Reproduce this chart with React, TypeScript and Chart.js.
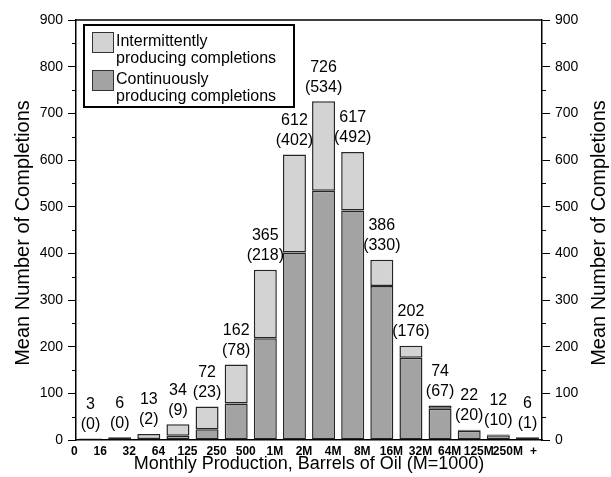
import React, { useEffect, useRef } from "react";
import { Chart, registerables } from "chart.js";

Chart.register(...registerables);

// Production bins are bounded by these edges (monthly barrels of oil, M = 1000)
const binEdges = ["0", "16", "32", "64", "125", "250", "500", "1M", "2M", "4M", "8M", "16M", "32M", "64M", "125M", "250M", "+"];
const binNames = binEdges.slice(0, -1).map((edge, i) => `${edge}–${binEdges[i + 1]}`);

// Mean number of completions per bin
const totalCompletions = [3, 6, 13, 34, 72, 162, 365, 612, 726, 617, 386, 202, 74, 22, 12, 6];
const continuousCompletions = [0, 0, 2, 9, 23, 78, 218, 402, 534, 492, 330, 176, 67, 20, 10, 1];
const intermittentCompletions = totalCompletions.map((t, i) => t - continuousCompletions[i]);

const yTicks = [0, 100, 200, 300, 400, 500, 600, 700, 800, 900];
const yMinorTicks = [50, 150, 250, 350, 450, 550, 650, 750, 850];

const FONT = "'Liberation Sans', Arial, Helvetica, sans-serif";
const INTERMITTENT_FILL = "#d3d3d3";
const CONTINUOUS_FILL = "#a3a3a3";
const BAR_EDGE = "#262626";

const framePlugin = {
  id: "frameAndMinorTicks",
  afterDraw(chart: any) {
    const { ctx, chartArea } = chart;
    ctx.save();
    ctx.strokeStyle = "#000";
    ctx.lineWidth = 1.5;
    ctx.beginPath();
    ctx.moveTo(chartArea.left, chartArea.top);
    ctx.lineTo(chartArea.right, chartArea.top);
    ctx.stroke();
    ctx.lineWidth = 1;
    const left = chart.scales.y;
    const right = chart.scales.y2;
    for (const v of yMinorTicks) {
      const yl = Math.round(left.getPixelForValue(v)) + 0.5;
      ctx.beginPath();
      ctx.moveTo(chartArea.left - 4, yl);
      ctx.lineTo(chartArea.left, yl);
      ctx.stroke();
      const yr = Math.round(right.getPixelForValue(v)) + 0.5;
      ctx.beginPath();
      ctx.moveTo(chartArea.right, yr);
      ctx.lineTo(chartArea.right + 4, yr);
      ctx.stroke();
    }
    ctx.restore();
  },
};

const barLabelPlugin = {
  id: "barLabels",
  afterDatasetsDraw(chart: any) {
    const { ctx } = chart;
    const topMeta = chart.getDatasetMeta(1);
    ctx.save();
    ctx.fillStyle = "#000";
    ctx.font = `16px ${FONT}`;
    ctx.textAlign = "center";
    ctx.textBaseline = "middle";
    topMeta.data.forEach((bar: any, i: number) => {
      const x = bar.x;
      const top = bar.y;
      ctx.fillText(String(totalCompletions[i]), x, top - 34);
      ctx.fillText(`(${continuousCompletions[i]})`, x, top - 14);
    });
    ctx.restore();
  },
};

const legendPlugin = {
  id: "boxedLegend",
  afterDraw(chart: any) {
    const { ctx, chartArea } = chart;
    const x0 = chartArea.left + 8;
    const y0 = chartArea.top + 5;
    const w = 210;
    const h = 82;
    ctx.save();
    ctx.fillStyle = "#fff";
    ctx.fillRect(x0, y0, w, h);
    ctx.strokeStyle = "#000";
    ctx.lineWidth = 2;
    ctx.strokeRect(x0, y0, w, h);
    const items = [
      { fill: INTERMITTENT_FILL, lines: ["Intermittently", "producing completions"] },
      { fill: CONTINUOUS_FILL, lines: ["Continuously", "producing completions"] },
    ];
    ctx.font = `16px ${FONT}`;
    ctx.textAlign = "left";
    ctx.textBaseline = "middle";
    items.forEach((item, k) => {
      const sy = y0 + 7 + k * 38;
      ctx.fillStyle = item.fill;
      ctx.fillRect(x0 + 8, sy, 22, 21);
      ctx.strokeStyle = "#333";
      ctx.lineWidth = 1;
      ctx.strokeRect(x0 + 8.5, sy + 0.5, 21, 20);
      ctx.fillStyle = "#000";
      ctx.fillText(item.lines[0], x0 + 32, sy + 10);
      ctx.fillText(item.lines[1], x0 + 32, sy + 27);
    });
    ctx.restore();
  },
};

const axisTitlePlugin = {
  id: "axisTitles",
  afterDraw(chart: any) {
    const { ctx, chartArea, width } = chart;
    const midY = (chartArea.top + chartArea.bottom) / 2 + 3;
    const midX = (chartArea.left + chartArea.right) / 2;
    ctx.save();
    ctx.fillStyle = "#000";
    ctx.textAlign = "center";
    ctx.textBaseline = "middle";
    ctx.font = `20px ${FONT}`;
    const yTitle = "Mean Number of Completions";
    for (const cx of [23, width - 12]) {
      ctx.save();
      ctx.translate(cx, midY);
      ctx.rotate(-Math.PI / 2);
      ctx.fillText(yTitle, 0, 0);
      ctx.restore();
    }
    ctx.font = `18px ${FONT}`;
    ctx.fillText("Monthly Production, Barrels of Oil (M=1000)", midX, chartArea.bottom + 24);
    ctx.restore();
  },
};

function valueAxis(position: "left" | "right", width: number) {
  return {
    type: "linear" as const,
    position,
    min: 0,
    max: 900,
    stacked: true,
    afterFit(scale: any) {
      scale.width = width;
    },
    afterBuildTicks(scale: any) {
      scale.ticks = yTicks.map((v) => ({ value: v }));
    },
    grid: {
      drawOnChartArea: false,
      drawTicks: true,
      tickLength: 8,
      color: "#000",
      lineWidth: 1,
    },
    border: { display: true, color: "#000", width: 1.5 },
    ticks: {
      color: "#000",
      font: { family: FONT, size: 14 },
      padding: 5,
    },
  };
}

export default function App() {
  const canvasRef = useRef<HTMLCanvasElement | null>(null);

  useEffect(() => {
    document.body.style.margin = "0";
    const canvas = canvasRef.current;
    if (!canvas) return;
    const chart = new Chart(canvas, {
      type: "bar",
      data: {
        labels: binNames,
        datasets: [
          {
            label: "Continuously producing completions",
            data: continuousCompletions,
            backgroundColor: CONTINUOUS_FILL,
            borderColor: BAR_EDGE,
            borderWidth: 1.5,
            borderSkipped: false,
            xAxisID: "x",
            yAxisID: "y",
          },
          {
            label: "Intermittently producing completions",
            data: intermittentCompletions,
            backgroundColor: INTERMITTENT_FILL,
            borderColor: BAR_EDGE,
            borderWidth: 1.5,
            borderSkipped: false,
            xAxisID: "x",
            yAxisID: "y",
          },
        ],
      },
      options: {
        responsive: false,
        animation: false,
        layout: { padding: { top: 20, left: 0, right: 0, bottom: 0 } },
        datasets: {
          bar: { categoryPercentage: 1, barPercentage: 0.79 },
        },
        plugins: {
          legend: { display: false },
          tooltip: { enabled: false },
        },
        scales: {
          x: {
            type: "category",
            display: false,
            stacked: true,
            offset: true,
          },
          xEdges: {
            type: "category",
            labels: binEdges,
            position: "bottom",
            offset: false,
            afterFit(scale: any) {
              scale.height = 37;
            },
            grid: { display: false, drawTicks: false },
            border: { display: true, color: "#000", width: 1.5 },
            ticks: {
              autoSkip: false,
              maxRotation: 0,
              minRotation: 0,
              align: "inner",
              labelOffset: -5,
              padding: 4,
              color: "#000",
              font: { family: FONT, size: 12, weight: "bold" },
            },
          },
          y: valueAxis("left", 76),
          y2: valueAxis("right", 69),
        },
      },
      plugins: [framePlugin, barLabelPlugin, legendPlugin, axisTitlePlugin],
    });
    return () => chart.destroy();
  }, []);

  return <canvas ref={canvasRef} width={611} height={477} style={{ display: "block" }} />;
}
